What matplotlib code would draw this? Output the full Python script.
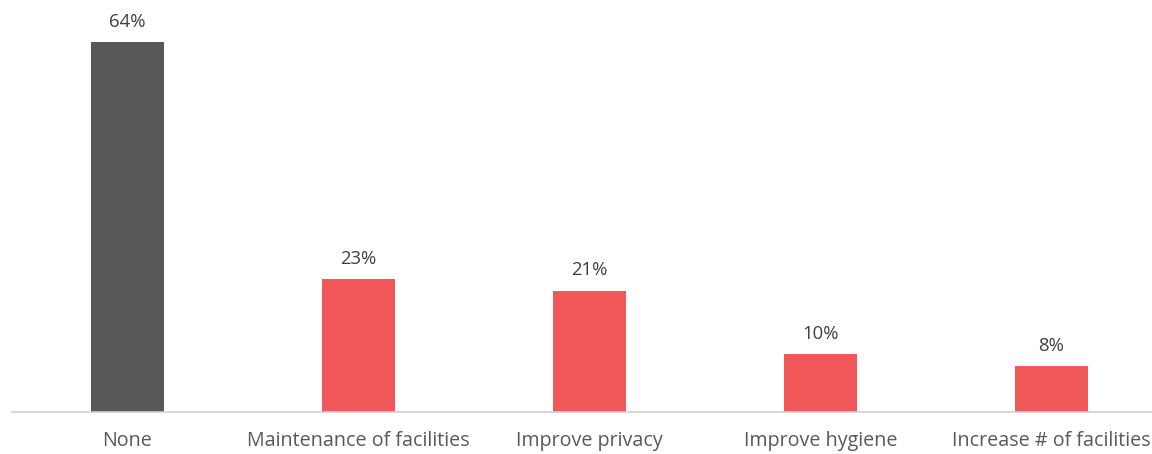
import matplotlib.pyplot as plt

categories = ["None", "Maintenance of facilities", "Improve privacy",
              "Improve hygiene", "Increase # of facilities"]
values = [64, 23, 21, 10, 8]
bar_colors = ["#58585A", "#F0585A", "#F0585A", "#F0585A", "#F0585A"]

plt.rcParams['font.family'] = ['Open Sans', 'DejaVu Sans']

W, H = 1152, 454
fig = plt.figure(figsize=(W / 100, H / 100), dpi=100)
left_px, right_px = 12, 1167
base_px = 412
ymax = 70
px_per_unit = 370 / 64
ax = fig.add_axes([left_px / W, (H - base_px) / H,
                   (right_px - left_px) / W, ymax * px_per_unit / H])

x = list(range(len(categories)))
ax.bar(x, values, width=0.316, color=bar_colors, zorder=2)
ax.set_xlim(-0.5, len(categories) - 0.5)
ax.set_ylim(0, ymax)

for xi, v in zip(x, values):
    ax.annotate(f"{v}%", (xi, v), xytext=(0, 8), textcoords="offset points",
                ha="center", va="bottom", fontsize=13.3, color="#404040",
                annotation_clip=False)

for s in ["top", "right", "left"]:
    ax.spines[s].set_visible(False)
ax.spines["bottom"].set_color("#D0D0D0")
ax.spines["bottom"].set_linewidth(1.2)
ax.set_yticks([])
ax.set_xticks(x)
ax.set_xticklabels(categories, fontsize=14.2, color="#595959")
ax.tick_params(axis="x", length=0, pad=14)

fig.savefig("out.png", dpi=100)
